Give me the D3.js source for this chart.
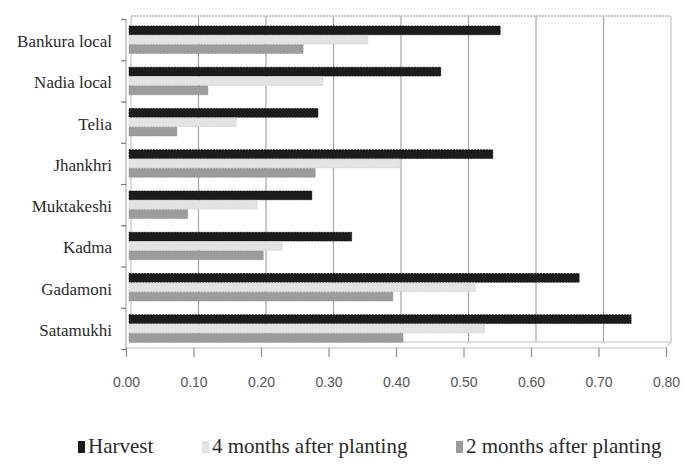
<!DOCTYPE html>
<html>
<head>
<meta charset="utf-8">
<script src="https://cdn.jsdelivr.net/npm/d3@7"></script>
<style>
  html, body { margin: 0; padding: 0; background: #fff; }
  svg { display: block; }
</style>
</head>
<body>
<svg id="chart" width="684" height="465"></svg>
<script>
const categories = ["Bankura local", "Nadia local", "Telia", "Jhankhri", "Muktakeshi", "Kadma", "Gadamoni", "Satamukhi"];
const seriesNames = ["Harvest", "4 months after planting", "2 months after planting"];
const harvest = [0.547, 0.459, 0.277, 0.536, 0.268, 0.327, 0.664, 0.741];
const fourMonths = [0.351, 0.284, 0.156, 0.399, 0.187, 0.224, 0.51, 0.524];
const twoMonths = [0.255, 0.114, 0.068, 0.273, 0.084, 0.196, 0.388, 0.403];
const xTicks = [0, 0.1, 0.2, 0.3, 0.4, 0.5, 0.6, 0.7, 0.8];
const colors = ["#1c1c1c", "#e3e3e3", "#9c9c9c"];
const strokes = ["#000", "#c8c8c8", "#8a8a8a"];

const SERIF = "Liberation Serif";
const SANS = "Liberation Sans";

const series = [harvest, fourMonths, twoMonths];
const svg = d3.select("#chart");

const wall = { left: 131, right: 671, top: 16, bottom: 342 };
const depth = { dx: -5, dy: 6 };

const x = d3.scaleLinear().domain([0, 0.8]).range([wall.left, wall.right]);
const y = d3.scaleBand().domain(categories).range([wall.top + 3.5, wall.bottom + 7.5]).padding(0);
const inner = d3.scaleBand().domain(d3.range(3)).range([6.5, 34]).paddingInner(0.06);

// gridlines
svg.append("g").selectAll("line").data(xTicks.slice(1, -1)).join("line")
  .attr("x1", d => x(d)).attr("x2", d => x(d))
  .attr("y1", wall.top).attr("y2", wall.bottom)
  .attr("stroke", "#a6a6a6").attr("stroke-width", 1.2);

// wall border
svg.append("line").attr("x1", wall.left).attr("x2", wall.right).attr("y1", wall.top).attr("y2", wall.top)
  .attr("stroke", "#b0b0b0").attr("stroke-width", 1.6).attr("stroke-dasharray", "2,1");
svg.append("line").attr("x1", wall.right).attr("x2", wall.right).attr("y1", wall.top).attr("y2", wall.bottom)
  .attr("stroke", "#c4c4c4").attr("stroke-width", 1.2);
svg.append("line").attr("x1", wall.left).attr("x2", wall.left).attr("y1", wall.top).attr("y2", wall.bottom)
  .attr("stroke", "#b8b8b8").attr("stroke-width", 1);
svg.append("line").attr("x1", wall.left).attr("x2", wall.right).attr("y1", wall.bottom).attr("y2", wall.bottom)
  .attr("stroke", "#bdbdbd").attr("stroke-width", 1.2);
svg.append("line").attr("x1", wall.left + depth.dx).attr("x2", wall.right + depth.dx)
  .attr("y1", wall.bottom + depth.dy).attr("y2", wall.bottom + depth.dy)
  .attr("stroke", "#bdbdbd").attr("stroke-width", 1.2);
svg.append("line").attr("x1", wall.right).attr("x2", wall.right + depth.dx)
  .attr("y1", wall.bottom).attr("y2", wall.bottom + depth.dy)
  .attr("stroke", "#bdbdbd").attr("stroke-width", 1);

// bars
series.forEach((vals, si) => {
  svg.append("g").selectAll("rect").data(categories).join("rect")
    .attr("x", x(0) - 2)
    .attr("y", (c) => y(c) + inner(si))
    .attr("width", (c, i) => x(vals[i]) - x(0) + 2)
    .attr("height", inner.bandwidth())
    .attr("fill", colors[si])
    .attr("stroke", strokes[si]).attr("stroke-width", 0.6).attr("stroke-dasharray", "2,1");
});

// left (category) axis
const leftX = wall.left + depth.dx;
const gl = svg.append("g").attr("transform", `translate(${leftX},0)`);
gl.append("line").attr("x1", 0).attr("x2", 0).attr("y1", y.range()[0]).attr("y2", y.range()[1])
  .attr("stroke", "#9a9a9a").attr("stroke-width", 1);
gl.selectAll("line.tk").data(categories.concat(["__end"])).join("line").attr("class", "tk")
  .attr("x1", -5).attr("x2", 0)
  .attr("y1", (c, i) => i < categories.length ? y(c) : y.range()[1])
  .attr("y2", (c, i) => i < categories.length ? y(c) : y.range()[1])
  .attr("stroke", "#777").attr("stroke-width", 1.2);
gl.selectAll("text").data(categories).join("text")
  .attr("x", -14).attr("y", c => y(c) + y.bandwidth() / 2 + 3)
  .attr("text-anchor", "end").attr("dominant-baseline", "middle")
  .style("font-family", SERIF).style("font-size", "17px").attr("fill", "#2a2a2a")
  .text(c => c);

// bottom (value) axis
const gb = svg.append("g")
  .attr("transform", `translate(${depth.dx},${wall.bottom + depth.dy})`)
  .call(d3.axisBottom(x).tickValues(xTicks).tickFormat(d3.format(".2f")).tickSize(9).tickPadding(20));
gb.select(".domain").remove();
gb.selectAll(".tick line").attr("stroke", "#8a8a8a").attr("stroke-width", 1.2);
gb.selectAll(".tick text")
  .style("font-family", SANS).style("font-size", "14px").attr("fill", "#555");

// legend
const legendItems = [
  { name: seriesNames[0], color: colors[0], x: 78 },
  { name: seriesNames[1], color: colors[1], x: 202 },
  { name: seriesNames[2], color: colors[2], x: 456 }
];
const lg = svg.append("g");
legendItems.forEach(it => {
  lg.append("rect").attr("x", it.x).attr("y", 441).attr("width", 7).attr("height", 12)
    .attr("fill", it.color);
  lg.append("text").attr("x", it.x + 10).attr("y", 448)
    .attr("dominant-baseline", "middle")
    .style("font-family", SERIF).style("font-size", "21px").attr("fill", "#2a2a2a")
    .text(it.name);
});
</script>
</body>
</html>
